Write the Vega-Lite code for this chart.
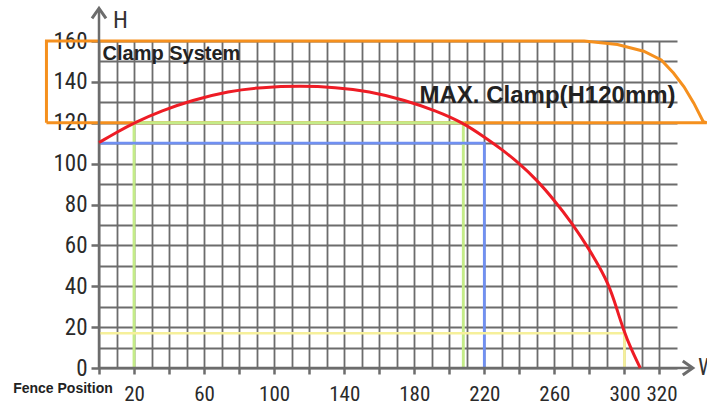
{
  "$schema": "https://vega.github.io/schema/vega-lite/v6.json",
  "width": 578,
  "height": 327,
  "autosize": "none",
  "padding": {"left": 99, "top": 41, "right": 30, "bottom": 42},
  "background": "white",
  "config": {"view": {"stroke": null}},
  "datasets": {
    "lines": [
      {"s": "orange", "i": 1, "x": -30, "y": 120},
      {"s": "orange", "i": 2, "x": -30, "y": 160},
      {"s": "orange", "i": 3, "x": 265, "y": 160},
      {"s": "orange", "i": 4, "x": 277, "y": 160},
      {"s": "orange", "i": 5, "x": 296, "y": 158.3},
      {"s": "orange", "i": 6, "x": 311, "y": 155},
      {"s": "orange", "i": 7, "x": 321, "y": 150.7},
      {"s": "orange", "i": 8, "x": 328, "y": 144.3},
      {"s": "orange", "i": 9, "x": 334, "y": 137.6},
      {"s": "orange", "i": 10, "x": 339.6, "y": 129.6},
      {"s": "orange", "i": 11, "x": 345, "y": 120.5},
      {"s": "orange", "i": 12, "x": 347, "y": 120},
      {"s": "orange", "i": 13, "x": -30, "y": 120},
      {"s": "green", "i": 1, "x": 20, "y": 0},
      {"s": "green", "i": 2, "x": 20, "y": 120},
      {"s": "green", "i": 3, "x": 208, "y": 120},
      {"s": "green", "i": 4, "x": 208, "y": 0},
      {"s": "blue", "i": 1, "x": 0, "y": 110},
      {"s": "blue", "i": 2, "x": 220, "y": 110},
      {"s": "blue", "i": 3, "x": 220, "y": 0},
      {"s": "yellow", "i": 1, "x": 0, "y": 17},
      {"s": "yellow", "i": 2, "x": 300, "y": 17},
      {"s": "yellow", "i": 3, "x": 300, "y": 0},
      {"s": "xaxis", "i": 1, "x": 0, "y": 0},
      {"s": "xaxis", "i": 2, "x": 338, "y": 0},
      {"s": "yaxis", "i": 1, "x": 0, "y": 0},
      {"s": "yaxis", "i": 2, "x": 0, "y": 175.5}
    ],
    "red": [
      {"x": 0, "y": 110.3},
      {"x": 10, "y": 115.3},
      {"x": 20, "y": 120},
      {"x": 36, "y": 126},
      {"x": 53, "y": 131},
      {"x": 74, "y": 135.5},
      {"x": 93, "y": 137.4},
      {"x": 115, "y": 138},
      {"x": 135, "y": 137.4},
      {"x": 154, "y": 135.5},
      {"x": 175, "y": 131},
      {"x": 192, "y": 126},
      {"x": 208, "y": 120},
      {"x": 220, "y": 113},
      {"x": 230, "y": 107},
      {"x": 240, "y": 100},
      {"x": 250, "y": 92},
      {"x": 260, "y": 82},
      {"x": 270, "y": 71},
      {"x": 280, "y": 58},
      {"x": 290, "y": 43},
      {"x": 294, "y": 33.5},
      {"x": 299.6, "y": 18},
      {"x": 304, "y": 9},
      {"x": 309, "y": 0}
    ],
    "arrows": [
      {"axis": "H", "x": 0, "y": 176},
      {"axis": "W", "x": 339, "y": 0}
    ],
    "labels": [
      {"t": "Clamp System", "x": 2, "y": 150.7},
      {"t": "MAX. Clamp(H120mm)", "x": 183, "y": 129.6},
      {"t": "Fence Position", "x": -49, "y": -12.2},
      {"t": "H", "x": 8, "y": 170},
      {"t": "W", "x": 342, "y": 0}
    ]
  },
  "encoding": {
    "x": {
      "field": "x",
      "type": "quantitative",
      "scale": {"domain": [0, 330], "nice": false, "zero": false},
      "axis": {
        "title": null,
        "domain": false,
        "grid": true,
        "gridColor": "#6c6c6c",
        "gridWidth": 1.8,
        "values": [0, 10, 20, 30, 40, 50, 60, 70, 80, 90, 100, 110, 120, 130, 140, 150, 160, 170, 180, 190, 200, 210, 220, 230, 240, 250, 260, 270, 280, 290, 300, 310, 320],
        "labelExpr": "indexof([20, 60, 100, 140, 180, 220, 260, 300, 320], datum.value) >= 0 ? datum.label : ''",
        "labelOverlap": false,
        "labelFont": "Liberation Sans Narrow, Arial Narrow, Roboto Condensed, Liberation Sans, sans-serif",
        "labelFontSize": 21,
        "labelColor": "#2a2a2a",
        "labelPadding": 9,
        "labelOffset": {"condition": {"test": "datum.value === 320", "value": 2}, "value": 0},
        "tickSize": 6,
        "tickWidth": 2.5,
        "tickColor": "#6c6c6c",
        "tickOpacity": {"condition": {"test": "datum.value % 20 === 0", "value": 1}, "value": 0}
      }
    },
    "y": {
      "field": "y",
      "type": "quantitative",
      "scale": {"domain": [0, 160], "nice": false, "zero": false},
      "axis": {
        "title": null,
        "domain": false,
        "grid": true,
        "gridColor": "#6c6c6c",
        "gridWidth": 1.8,
        "values": [0, 10, 20, 30, 40, 50, 60, 70, 80, 90, 100, 110, 120, 130, 140, 150, 160],
        "labelExpr": "datum.value % 20 === 0 ? datum.label : ''",
        "labelOverlap": false,
        "labelFont": "Liberation Sans Narrow, Arial Narrow, Roboto Condensed, Liberation Sans, sans-serif",
        "labelFontSize": 23,
        "labelColor": "#2a2a2a",
        "labelPadding": 4,
        "tickSize": 8,
        "tickWidth": 2.5,
        "tickColor": "#6c6c6c",
        "tickOpacity": {"condition": {"test": "datum.value % 20 === 0", "value": 1}, "value": 0}
      }
    }
  },
  "layer": [
    {
      "data": {"name": "lines"},
      "mark": {"type": "line", "strokeJoin": "miter", "clip": false},
      "encoding": {
        "order": {"field": "i", "type": "quantitative"},
        "color": {
          "field": "s",
          "type": "nominal",
          "legend": null,
          "scale": {
            "domain": ["orange", "green", "blue", "yellow", "xaxis", "yaxis"],
            "range": ["#f5901e", "#c4ec88", "#7090f2", "#f6f09a", "#6c6c6c", "#6c6c6c"]
          }
        },
        "strokeWidth": {
          "field": "s",
          "type": "nominal",
          "legend": null,
          "scale": {
            "domain": ["orange", "green", "blue", "yellow", "xaxis", "yaxis"],
            "range": [3, 2.5, 3.5, 4.5, 3.2, 3.2]
          }
        }
      }
    },
    {
      "data": {"name": "red"},
      "mark": {"type": "line", "color": "#ee1c25", "strokeWidth": 3, "interpolate": "basis"},
      "encoding": {}
    },
    {
      "data": {"name": "arrows"},
      "transform": [{"filter": "datum.axis === 'H'"}],
      "mark": {"type": "point", "shape": "M-0.7,1L0,0L0.7,1", "size": 400, "filled": false, "stroke": "#6c6c6c", "strokeWidth": 3, "opacity": 1},
      "encoding": {}
    },
    {
      "data": {"name": "arrows"},
      "transform": [{"filter": "datum.axis === 'W'"}],
      "mark": {"type": "point", "shape": "M-0.7,1L0,0L0.7,1", "size": 400, "angle": 90, "filled": false, "stroke": "#6c6c6c", "strokeWidth": 3, "opacity": 1},
      "encoding": {}
    },
    {
      "data": {"name": "labels"},
      "transform": [{"filter": "datum.t === 'Clamp System'"}],
      "mark": {"type": "text", "align": "left", "baseline": "alphabetic", "font": "Liberation Sans, Arial, sans-serif", "fontWeight": "bold", "fontSize": 20, "color": "#222222"},
      "encoding": {"text": {"field": "t"}}
    },
    {
      "data": {"name": "labels"},
      "transform": [{"filter": "datum.t === 'MAX. Clamp(H120mm)'"}],
      "mark": {"type": "text", "align": "left", "baseline": "alphabetic", "font": "Liberation Sans, Arial, sans-serif", "fontWeight": "bold", "fontSize": 24, "color": "#222222"},
      "encoding": {"text": {"field": "t"}}
    },
    {
      "data": {"name": "labels"},
      "transform": [{"filter": "datum.t === 'Fence Position'"}],
      "mark": {"type": "text", "align": "left", "baseline": "alphabetic", "font": "Liberation Sans, Arial, sans-serif", "fontWeight": "bold", "fontSize": 14, "color": "#222222"},
      "encoding": {"text": {"field": "t"}}
    },
    {
      "data": {"name": "labels"},
      "transform": [{"filter": "datum.t === 'H' || datum.t === 'W'"}],
      "mark": {"type": "text", "align": "left", "baseline": "middle", "font": "Liberation Sans Narrow, Arial Narrow, Roboto Condensed, Liberation Sans, sans-serif", "fontSize": 24, "color": "#333333"},
      "encoding": {"text": {"field": "t"}}
    }
  ]
}
